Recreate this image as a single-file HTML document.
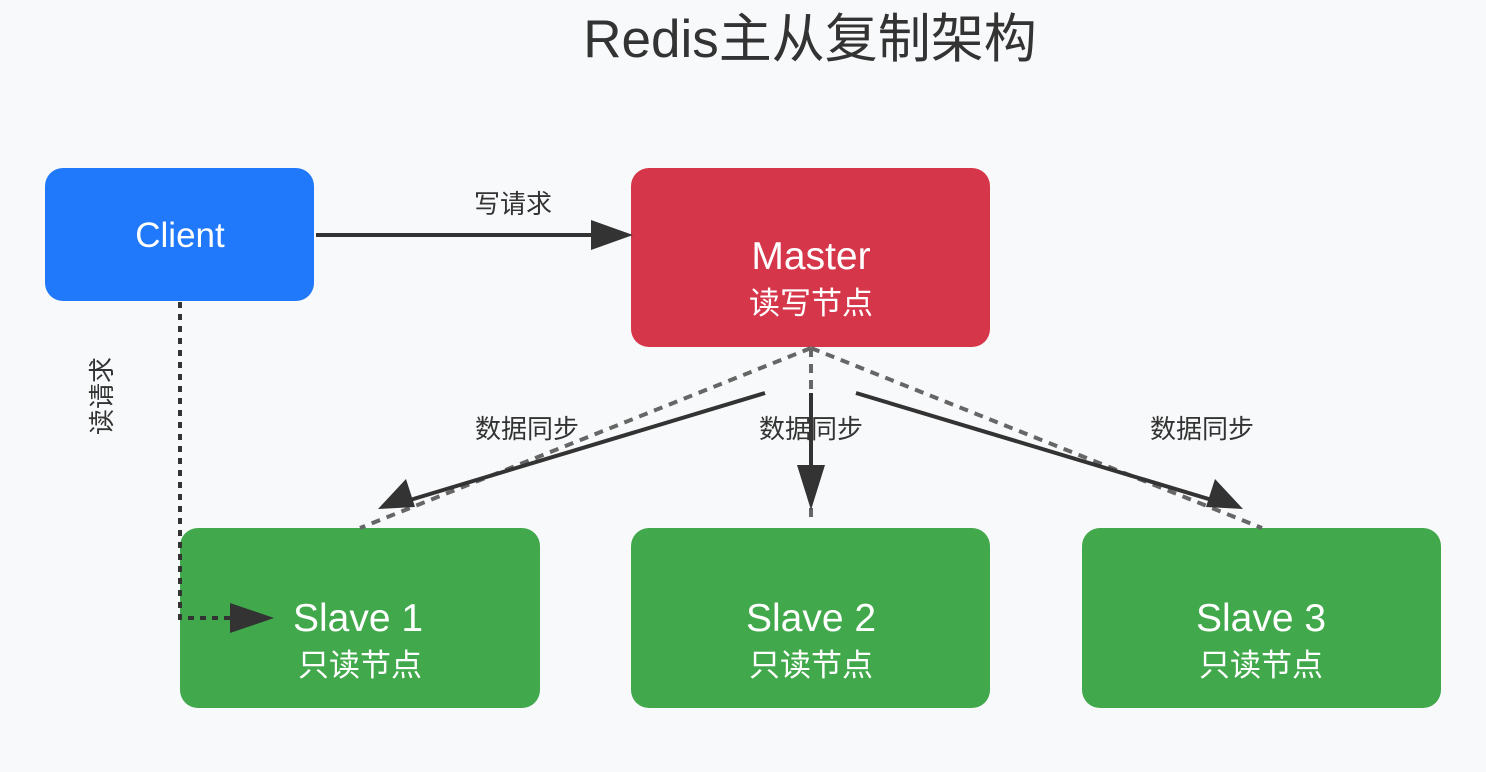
<!DOCTYPE html>
<html><head><meta charset="utf-8"><style>
html,body{margin:0;padding:0;background:#f8f9fa;}
svg{display:block;font-family:"Liberation Sans","Noto Sans CJK SC",sans-serif;}
</style></head><body>
<svg width="1486" height="772" viewBox="0 0 1486 772">
<rect width="1486" height="772" fill="#f8f9fa"/>
<text x="810" y="57" font-size="53" fill="#333" text-anchor="middle">Redis主从复制架构</text>

<rect x="45" y="168" width="269" height="133" rx="18" fill="#2079fb"/>
<text x="180" y="247" font-size="35" fill="#fff" text-anchor="middle">Client</text>

<rect x="631" y="168" width="359" height="179" rx="18" fill="#d63649"/>
<text x="811" y="269" font-size="39" fill="#fff" text-anchor="middle">Master</text>
<text x="811" y="314" font-size="31" fill="#fff" text-anchor="middle">读写节点</text>

<rect x="180" y="528" width="360" height="180" rx="18" fill="#41a84b"/>
<text x="358" y="631" font-size="39" fill="#fff" text-anchor="middle">Slave 1</text>
<text x="360" y="676" font-size="31" fill="#fff" text-anchor="middle">只读节点</text>
<rect x="631" y="528" width="359" height="180" rx="18" fill="#41a84b"/>
<text x="811" y="631" font-size="39" fill="#fff" text-anchor="middle">Slave 2</text>
<text x="811" y="676" font-size="31" fill="#fff" text-anchor="middle">只读节点</text>
<rect x="1082" y="528" width="359" height="180" rx="18" fill="#41a84b"/>
<text x="1261" y="631" font-size="39" fill="#fff" text-anchor="middle">Slave 3</text>
<text x="1261" y="676" font-size="31" fill="#fff" text-anchor="middle">只读节点</text>

<!-- write request -->
<line x1="316" y1="235" x2="595" y2="235" stroke="#333" stroke-width="4"/>
<polygon points="633,235 591,220 591,250" fill="#333"/>
<text x="513" y="213" font-size="26" fill="#333" text-anchor="middle">写请求</text>

<!-- read request -->
<polyline points="180,302 180,618 232,618" fill="none" stroke="#333" stroke-width="4" stroke-dasharray="6 6"/>
<polygon points="274,618 230,603 230,633" fill="#333"/>
<text transform="translate(111,396) rotate(-90)" font-size="26" fill="#333" text-anchor="middle">读请求</text>

<!-- dashed gray -->
<g stroke="#666" stroke-width="4" stroke-dasharray="9 7" fill="none">
<line x1="811" y1="348" x2="360" y2="528"/>
<line x1="811" y1="348" x2="811" y2="518"/>
<line x1="811" y1="348" x2="1262" y2="528"/>
</g>

<!-- solid sync arrows -->
<g stroke="#333" stroke-width="4">
<line x1="765" y1="393" x2="410" y2="500"/>
<line x1="811" y1="393" x2="811" y2="470"/>
<line x1="856" y1="393" x2="1212" y2="500"/>
</g>
<polygon points="378,509 406,479 415,507" fill="#333"/>
<polygon points="811,510 797,465 825,465" fill="#333"/>
<polygon points="1243,509 1206,507 1215,479" fill="#333"/>

<text x="527" y="438" font-size="26" fill="#333" text-anchor="middle">数据同步</text>
<text x="811" y="438" font-size="26" fill="#333" text-anchor="middle">数据同步</text>
<text x="1202" y="438" font-size="26" fill="#333" text-anchor="middle">数据同步</text>
</svg>
</body></html>
